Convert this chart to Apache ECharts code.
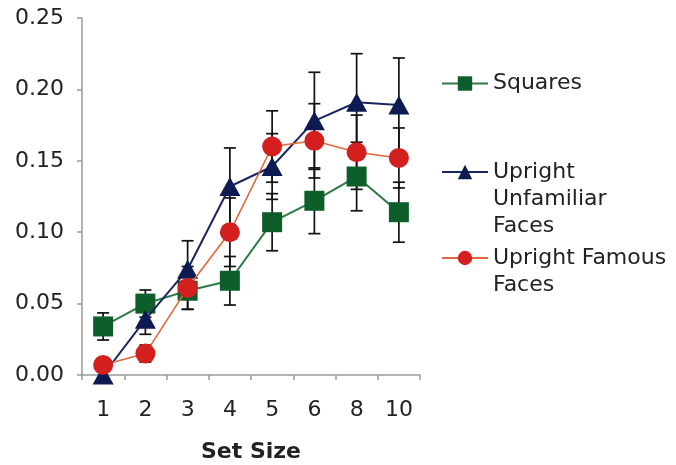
<!DOCTYPE html>
<html>
<head>
<meta charset="utf-8">
<script src="https://cdn.jsdelivr.net/npm/echarts@6/dist/echarts.min.js"></script>
<style>html,body{margin:0;padding:0;background:#fff}#c{width:676px;height:465px}</style>
</head>
<body>
<div id="c"></div>
<script>
const categories = ['1', '2', '3', '4', '5', '6', '8', '10'];
const squares = [0.034, 0.050, 0.059, 0.066, 0.107, 0.122, 0.139, 0.114];
const squaresErr = [0.0095, 0.0095, 0.013, 0.017, 0.020, 0.023, 0.024, 0.021];
const unfamiliar = [0.000, 0.039, 0.074, 0.132, 0.146, 0.178, 0.191, 0.189];
const unfamiliarErr = [0, 0.0105, 0.020, 0.027, 0.023, 0.034, 0.034, 0.033];
const famous = [0.007, 0.015, 0.061, 0.100, 0.160, 0.164, 0.156, 0.152];
const famousErr = [0.005, 0.006, 0.015, 0.024, 0.025, 0.026, 0.026, 0.021];
const yTicks = [0, 0.05, 0.10, 0.15, 0.20, 0.25];
const names = ['Squares', 'Upright\nUnfamiliar\nFaces', 'Upright Famous\nFaces'];

const FONT = 'DejaVu Sans';
const chart = echarts.init(document.getElementById('c'));

function errSeries(vals, errs) {
  return {
    type: 'custom',
    z: 1,
    silent: true,
    data: vals.map((v, i) => [i, v, errs[i]]),
    encode: { x: 0, y: 1 },
    renderItem(params, api) {
      const i = api.value(0), v = api.value(1), e = api.value(2);
      if (!e) return null;
      const t = api.coord([i, v + e]);
      const b = api.coord([i, v - e]);
      const hw = 6;
      const st = { stroke: '#111', lineWidth: 1.7 };
      return {
        type: 'group',
        children: [
          { type: 'line', shape: { x1: t[0], y1: t[1], x2: b[0], y2: b[1] }, style: st },
          { type: 'line', shape: { x1: t[0] - hw, y1: t[1], x2: t[0] + hw, y2: t[1] }, style: st },
          { type: 'line', shape: { x1: b[0] - hw, y1: b[1], x2: b[0] + hw, y2: b[1] }, style: st }
        ]
      };
    }
  };
}

const legendText = { fontFamily: FONT, fontSize: 22, color: '#222', lineHeight: 27 };
// leading blank lines keep the first text line level with the legend icon
function padLines(n) { return name => '\n'.repeat(n) + name; }

chart.setOption({
  animation: false,
  backgroundColor: '#fff',
  grid: { left: 82, right: 256, top: 18, bottom: 90, containLabel: false, outerBoundsMode: 'none' },
  legend: [
    { data: [names[0]], orient: 'vertical', left: 441, top: 70, padding: 0, itemWidth: 46, itemHeight: 18,
      textStyle: legendText },
    { data: [names[1]], orient: 'vertical', left: 441, top: 104.5, padding: 0, itemWidth: 46, itemHeight: 18,
      formatter: padLines(2), textStyle: legendText },
    { data: [names[2]], orient: 'vertical', left: 441, top: 217.5, padding: 0, itemWidth: 46, itemHeight: 18,
      formatter: padLines(1), textStyle: legendText }
  ],
  xAxis: {
    type: 'category',
    data: categories,
    boundaryGap: true,
    name: 'Set Size',
    nameLocation: 'middle',
    nameGap: 66,
    nameTextStyle: { fontFamily: FONT, fontSize: 22, fontWeight: 'bold', color: '#222' },
    axisLine: { lineStyle: { color: '#9a9a9a', width: 1.5 } },
    axisTick: { show: true, inside: false, length: 5, lineStyle: { color: '#9a9a9a', width: 1.5 } },
    axisLabel: { fontFamily: FONT, fontSize: 22, color: '#222', margin: 24 },
    splitLine: { show: false }
  },
  yAxis: {
    type: 'value',
    min: yTicks[0],
    max: yTicks[yTicks.length - 1],
    interval: 0.05,
    axisLine: { show: true, lineStyle: { color: '#9a9a9a', width: 1.5 } },
    axisTick: { show: true, inside: false, length: 5, lineStyle: { color: '#9a9a9a', width: 1.5 } },
    axisLabel: { fontFamily: FONT, fontSize: 22, color: '#222', margin: 18, formatter: v => v.toFixed(2) },
    splitLine: { show: false }
  },
  series: [
    errSeries(squares, squaresErr),
    errSeries(unfamiliar, unfamiliarErr),
    errSeries(famous, famousErr),
    {
      name: names[0], type: 'line', data: squares, z: 3,
      symbol: 'rect', symbolSize: 20,
      itemStyle: { color: '#0d5e2a' },
      lineStyle: { color: '#2a7a42', width: 2 }
    },
    {
      name: names[1], type: 'line', data: unfamiliar, z: 4,
      symbol: 'triangle', symbolSize: [21, 19],
      itemStyle: { color: '#0e1a52' },
      lineStyle: { color: '#1a2660', width: 2 }
    },
    {
      name: names[2], type: 'line', data: famous, z: 5,
      symbol: 'circle', symbolSize: 20,
      itemStyle: { color: '#d41f1f' },
      lineStyle: { color: '#e2673c', width: 1.6 }
    }
  ]
});
</script>
</body>
</html>
